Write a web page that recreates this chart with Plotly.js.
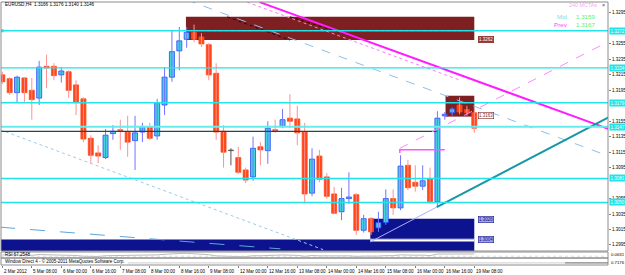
<!DOCTYPE html>
<html><head><meta charset="utf-8">
<script src="https://cdn.plot.ly/plotly-3.0.1.min.js"></script>
<style>html,body{margin:0;padding:0;background:#fff;}#chart{width:625px;height:275px;}</style>
</head><body><div id="chart"></div>
<script>
// ---- data ----
const tickIdx = [0,4,8,12,16,20,24,28,32,36,40,44,48,52,56,60,64];
const tickText = ["2 Mar 2012","5 Mar 08:00","6 Mar 00:00","6 Mar 16:00","7 Mar 08:00","8 Mar 00:00","8 Mar 16:00","9 Mar 08:00","12 Mar 00:00","12 Mar 16:00","13 Mar 08:00","14 Mar 00:00","14 Mar 16:00","15 Mar 08:00","16 Mar 00:00","16 Mar 16:00","19 Mar 08:00"];

const open = [1.3215,1.3210,1.3192,1.3211,1.3195,1.3185,1.3226,1.3226,1.3215,1.3219,
1.3202,1.3184,1.3133,1.3114,1.3108,1.3139,1.3144,1.3141,1.3130,1.3141,
1.3148,1.3136,1.3176,1.3212,1.3246,1.3261,1.3270,1.3264,1.3254,1.3217,
1.3142,1.3117,1.3108,1.3092,1.3083,1.3122,1.3117,1.3144,1.3148,1.3159,
1.3158,1.3141,1.3062,1.3110,1.3083,1.3061,1.3038,1.3055,1.3060,1.3014,
1.3029,1.3017,1.3024,1.3055,1.3043,1.3098,1.3076,1.3071,1.3081,1.3051,
1.3162,1.3166,1.3176,1.3170,1.3166];
const high = [1.3219,1.3212,1.3214,1.3212,1.3211,1.3233,1.3241,1.3230,1.3225,1.3221,
1.3208,1.3186,1.3137,1.3124,1.3145,1.3150,1.3157,1.3162,1.3162,1.3153,
1.3153,1.3184,1.3225,1.3273,1.3277,1.3277,1.3280,1.3269,1.3256,1.3230,
1.3150,1.3120,1.3122,1.3095,1.3135,1.3128,1.3155,1.3157,1.3171,1.3190,
1.3175,1.3153,1.3120,1.3118,1.3088,1.3070,1.3069,1.3089,1.3062,1.3034,
1.3031,1.3038,1.3067,1.3067,1.3111,1.3105,1.3098,1.3098,1.3095,1.3168,
1.3167,1.3173,1.3186,1.3175,1.3176];
const low = [1.3203,1.3189,1.3179,1.3180,1.3157,1.3176,1.3198,1.3208,1.3205,1.3185,
1.3163,1.3128,1.3100,1.3101,1.3106,1.3131,1.3118,1.3109,1.3092,1.3128,
1.3131,1.3131,1.3163,1.3206,1.3221,1.3250,1.3257,1.3251,1.3208,1.3131,
1.3095,1.3098,1.3087,1.3075,1.3078,1.3098,1.3100,1.3140,1.3146,1.3146,
1.3124,1.3049,1.3058,1.3076,1.3055,1.3035,1.3027,1.3048,1.3008,1.3011,
1.3008,1.3012,1.3021,1.3034,1.3040,1.3066,1.3064,1.3066,1.3048,1.3044,
1.3157,1.3162,1.3164,1.3162,1.3140];
const close = [1.3206,1.3192,1.3212,1.3192,1.3183,1.3225,1.3224,1.3214,1.3220,1.3195,
1.3180,1.3132,1.3111,1.3110,1.3137,1.3142,1.3143,1.3128,1.3140,1.3148,
1.3133,1.3179,1.3212,1.3245,1.3259,1.3270,1.3261,1.3255,1.3215,1.3141,
1.3115,1.3117,1.3089,1.3079,1.3120,1.3118,1.3146,1.3143,1.3157,1.3155,
1.3140,1.3061,1.3106,1.3080,1.3058,1.3036,1.3055,1.3057,1.3014,1.3029,
1.3012,1.3024,1.3055,1.3043,1.3097,1.3069,1.3071,1.3078,1.3051,1.3159,
1.3164,1.3171,1.3167,1.3166,1.3146];

const rsi = [52,45,50,46,44,58,57,53,55,48,42,30,24,25,38,40,40,36,41,44,38,52,62,72,75,78,72,68,55,35,
28,29,24,22,38,37,46,46,50,49,44,28,42,36,32,28,35,36,27,32,29,32,40,38,52,45,46,48,40,66,67,68,69,68,67];

const priceTicks = [1.2995,1.3015,1.3035,1.3055,1.3095,1.3115,1.3135,1.3155,1.3195,1.3215,1.3235,1.3255,1.3295];
const levels = [1.3272,1.3224,1.3179,1.3148,1.3081,1.3050];
const levelLabels = ["1.3272","1.3224","1.3179","1.3147","1.3081","1.3050"];

// zone boxes
const boxX0 = [24.9, 60.1, 49.9, -1];
const boxX1 = [64, 64, 64, 64];
const boxY0 = [1.3290, 1.3188, 1.3029, 1.3002];
const boxY1 = [1.3260, 1.3161, 1.3003, 1.2980];
const boxLabelY = [1.3261, 1.3162, 1.3028, 1.3002];
const boxLabelText = ["1.3262", "1.3163", "1.3026", "1.3004"];

// trend lines (bar index, price)
const magX = [34.9, 82.2], magY = [1.3309, 1.3145];
const pinkDotX = [33.2, 62.1], pinkDotY = [1.3309, 1.3208];
const pinkDashX = [53.9, 82.2], pinkDashY = [1.3120, 1.3258];
const blueDashX = [25.0, 82.2], blueDashY = [1.3312, 1.3110];
const blueDotX = [-0.3, 43.5], blueDotY = [1.3144, 1.2989];
const blueLongX = [-0.3, 37.7], blueLongY = [1.3018, 1.2990];
const tealX = [58.9, 82.2], tealY = [1.3044, 1.3160];
const thinX = [49.9, 58.9], thinY = [1.2999, 1.3044];
const prevX = [53.9, 53.9, 60.0], prevY = [1.3114, 1.3118, 1.3118];
const darkX = [-0.3, 58.9], darkY = [1.3142, 1.3142];
const boxDotX = [24.9, 64], boxDotY = [1.3272, 1.3272];
const diagX = [30.5, 39.0, null, 39.0, 48.1], diagY = [1.3290, 1.3260, null, 1.3290, 1.3263];

// ---- build ----
const idx = close.map((_, i) => i);
const isDoji = idx.map(i => close[i] === open[i]);
const isBull = idx.map(i => close[i] > open[i]);
const bodyFill = idx.map(i => isDoji[i] ? '#555555' : (isBull[i] ? '#45d3dc' : '#ff4719'));
const bodyLine = idx.map(i => isDoji[i] ? '#555555' : (isBull[i] ? '#2448ff' : '#ff4719'));

function wicks(f) {
  const xs = [], ys = [];
  idx.forEach(i => { if (f(i)) { xs.push(i, i, null); ys.push(high[i], low[i], null); } });
  return {xs, ys};
}
const wBull = wicks(i => isBull[i] && !isDoji[i]);
const wBear = wicks(i => !isBull[i] && !isDoji[i]);
const wDoji = wicks(i => isDoji[i]);

function line(x, y, color, width, dash, yaxis) {
  return {type: 'scatter', mode: 'lines', x: x, y: y, yaxis: yaxis || 'y',
    line: {color: color, width: width, dash: dash || 'solid'}, hoverinfo: 'skip', showlegend: false};
}

const traces = [
  line(wBull.xs, wBull.ys, '#7474ff', 1),
  line(wBear.xs, wBear.ys, '#ff9090', 1),
  line(wDoji.xs, wDoji.ys, '#555555', 1),
  {type: 'bar', x: idx, base: idx.map(i => Math.min(open[i], close[i])),
   y: idx.map(i => Math.max(Math.abs(close[i] - open[i]), 0.00007)),
   width: 0.68, marker: {color: bodyFill, line: {color: bodyLine, width: 0.8}},
   hoverinfo: 'skip', showlegend: false},
  line(blueDashX, blueDashY, '#8fbfe6', 1, 'dash'),
  line(blueDotX, blueDotY, '#9ccbea', 1, 'dot'),
  line(blueLongX, blueLongY, '#5fa5d8', 1, 'longdash'),
  line(diagX, diagY, '#3a0000', 1, 'dot'),
  line(boxDotX, boxDotY, '#101010', 1, 'dot'),
  line(darkX, darkY, '#164e58', 1.3),
  line(pinkDotX, pinkDotY, '#ff77ff', 1, 'dot'),
  line(pinkDashX, pinkDashY, '#ff88ff', 1, 'dash'),
  line(magX, magY, '#ff1cff', 2),
  line(tealX, tealY, '#1697a6', 2),
  line(thinX, thinY, '#aab0ff', 1),
  line(prevX, prevY, '#ff55ff', 1.5),
  {type: 'scatter', mode: 'markers', x: [0], y: [levels[0]], marker: {symbol: 'square', size: 3, color: '#22e3e8'}, hoverinfo: 'skip', showlegend: false},
  line(idx, rsi, '#a8a8a8', 0.8, 'solid', 'y2')
];

const shapes = [];
boxX0.forEach((x0, k) => shapes.push({type: 'rect', xref: 'x', yref: 'y', x0: x0, x1: boxX1[k], y0: boxY0[k], y1: boxY1[k],
  fillcolor: k < 2 ? '#7e1f22' : '#0d128e', line: {width: 0}, layer: 'below'}));
shapes.push({type: 'line', xref: 'x', yref: 'y', x0: boxX0[2], x1: boxX1[2], y0: 1.30008, y1: 1.30008, line: {color: '#ffffff', width: 2}, layer: 'below'});
levels.forEach((lv, k) => shapes.push({type: 'line', xref: 'paper', yref: 'y', x0: 0, x1: 1, y0: lv, y1: lv,
  line: {color: k === 3 ? '#66ecec' : '#22e3e8', width: k === 3 ? 2 : 1.4}}));
[[0.0532, 1], [0.0266, 0.0494], [0, 0.0266]].forEach(d => shapes.push({type: 'rect', xref: 'paper', yref: 'paper', x0: 0, x1: 1, y0: d[0], y1: d[1], line: {color: '#8c8c8c', width: 1}}));
shapes.push({type: 'line', xref: 'paper', yref: 'y2', x0: 0, x1: 1, y0: 30, y1: 30, line: {color: '#c8c8c8', width: 0.6, dash: 'dot'}});
shapes.push({type: 'line', xref: 'x', yref: 'y3', x0: 17, x1: 82.2, y0: 0.3, y1: 0.3, line: {color: '#c0c0c0', width: 0.8}});
shapes.push({type: 'line', xref: 'x', yref: 'y3', x0: 76.3, x1: 82.2, y0: 0.3, y1: 0.3, line: {color: '#606060', width: 0.8}});

const F = 'Liberation Sans, Arial, sans-serif';
const annotations = [];
// price axis labels
priceTicks.forEach(v => annotations.push({xref: 'paper', yref: 'y', x: 1, y: v, xanchor: 'left', yanchor: 'middle', xshift: 2,
  text: v.toFixed(4), showarrow: false, font: {family: F, size: 4.5, color: '#000'}}));
// time axis labels
tickIdx.forEach((t, k) => annotations.push({xref: 'x', yref: 'paper', x: t, y: 0, xanchor: 'left', yanchor: 'top', yshift: -1.5, xshift: -0.5,
  text: tickText[k], showarrow: false, font: {family: F, size: 4.5, color: '#000'}}));
levels.forEach((lv, k) => annotations.push({xref: 'paper', yref: 'y', x: 1, y: lv, xanchor: 'left', xshift: 0.5, text: levelLabels[k],
  showarrow: false, bgcolor: '#22e3e8', font: {family: F, size: 4.5, color: '#ffffff'}, borderpad: 0.5}));
boxLabelY.forEach((y, k) => annotations.push({xref: 'x', yref: 'y', x: 64.5, y: y, xanchor: 'left', text: boxLabelText[k], showarrow: false,
  bgcolor: k < 2 ? (k === 0 ? '#9a3434' : '#ffffff') : '#a4a4ec', bordercolor: k < 2 ? '#7e1f22' : '#1a1a8a', borderwidth: 0.6, borderpad: 0.4,
  font: {family: F, size: 4.5, color: k === 0 ? '#ffffff' : (k === 1 ? '#7e1f22' : '#10107a')}}));
function txt(x, y, s, size, color, anchor) {
  return {xref: 'paper', yref: 'paper', x: x, y: y, xanchor: anchor || 'left', yanchor: 'middle', text: s, showarrow: false,
    font: {family: F, size: size, color: color}};
}
annotations.push(txt(0.003, 0.9905, 'EURUSD,H4  1.3166 1.3176 1.3140 1.3146', 4.6, '#000000'));
annotations.push(txt(0.985, 0.9886, '240 MCTAs', 5.4, '#ff9cff', 'right'));
annotations.push(txt(0.9918, 0.9886, '×', 5.4, '#444444', 'center'));
annotations.push(txt(0.9127, 0.943, 'Mid', 6.2, '#7fdcdc'));
annotations.push(txt(0.9819, 0.943, '1.3159', 6.2, '#5fef5f', 'right'));
annotations.push(txt(0.9077, 0.9163, 'Prev', 6.2, '#ff44ff'));
annotations.push(txt(0.9819, 0.9163, '1.3167', 6.2, '#5fef5f', 'right'));
annotations.push(txt(0.004, 0.040, 'RSI 67.2548', 4.5, '#000000'));
annotations.push(txt(0.004, 0.0152, 'Window Direct 4 - © 2005-2011 MetaQuotes Software Corp.', 4.5, '#000000'));
annotations.push({xref: 'paper', yref: 'paper', x: 1, y: 0.040, xanchor: 'left', yanchor: 'middle', xshift: 1, text: '0.0631', showarrow: false, font: {family: F, size: 4.3, color: '#000'}});
annotations.push({xref: 'paper', yref: 'paper', x: 1, y: 0.010, xanchor: 'left', yanchor: 'middle', xshift: 1, text: '0.7176', showarrow: false, font: {family: F, size: 4.3, color: '#000'}});

const layout = {
  width: 625, height: 275, margin: {l: 1, r: 17, t: 2, b: 10, pad: 0},
  paper_bgcolor: '#ffffff', plot_bgcolor: '#ffffff', showlegend: false, barmode: 'overlay',
  font: {family: F, size: 5, color: '#000000'},
  xaxis: {range: [-0.176, 82.13], anchor: 'y3', tickvals: tickIdx, showticklabels: false,
    ticks: 'outside', ticklen: 2, tickcolor: '#808080',
    showgrid: false, zeroline: false, showline: false, fixedrange: true},
  yaxis: {domain: [0.0532, 1], range: [1.29872, 1.33092], side: 'right', anchor: 'x', tickvals: priceTicks,
    showticklabels: false, ticks: 'outside', ticklen: 2, tickcolor: '#808080',
    showgrid: false, zeroline: false, showline: false},
  yaxis2: {domain: [0.0266, 0.0494], range: [0, 100], anchor: 'x', showticklabels: false, showgrid: false, zeroline: false, ticks: ''},
  yaxis3: {domain: [0, 0.0266], range: [0, 1], anchor: 'x', showticklabels: false, showgrid: false, zeroline: false, ticks: ''},
  shapes: shapes, annotations: annotations
};
Plotly.newPlot('chart', traces, layout, {staticPlot: true, displayModeBar: false});
</script></body></html>
